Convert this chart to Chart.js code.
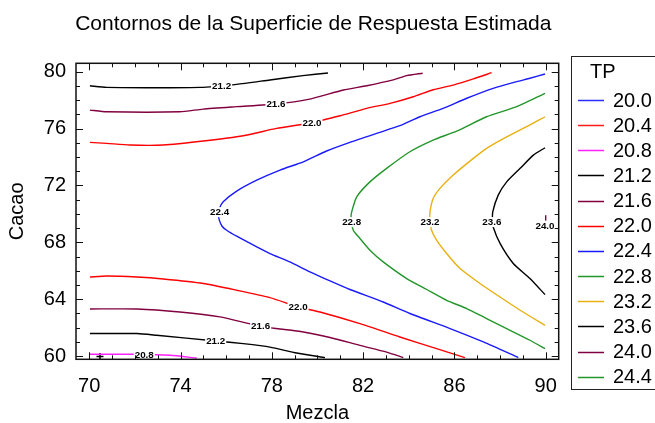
<!DOCTYPE html>
<html>
<head>
<meta charset="utf-8">
<script src="https://cdn.jsdelivr.net/npm/chart.js@4.4.1/dist/chart.umd.min.js"></script>
<style>
  html, body { margin: 0; padding: 0; background: #fff; }
  #wrap { width: 655px; height: 423px; }
</style>
</head>
<body>
<div id="wrap"><canvas id="c" width="655" height="423"></canvas></div>
<script>
// Contour levels of TP and the colour assigned to each level
const levels = ['20.0', '20.4', '20.8', '21.2', '21.6', '22.0', '22.4', '22.8', '23.2', '23.6', '24.0', '24.4'];
const levelColors = ['#2b2bff', '#ff1a1a', '#ff20ff', '#000000', '#800040', '#ff0000',
                     '#1a1aff', '#22962a', '#e8b010', '#000000', '#800040', '#22962a'];

// Axis tick labels
const xTicks = [70, 74, 78, 82, 86, 90];
const yTicks = [60, 64, 68, 72, 76, 80];

// Contour traces, [Mezcla, Cacao]
const c208 = [[70.03, 60.12], [72.08, 60.12], [73.54, 60.05], [74.71, 59.86]];
const c212Top = [[70.03, 79.01], [70.76, 78.9], [74.85, 78.9], [76.46, 79.11], [77.92, 79.42],
                 [79.36, 79.72], [80.46, 79.91]];
const c212Bot = [[70.03, 61.58], [72.08, 61.58], [72.95, 61.46], [75.55, 61.06], [76.75, 60.87],
                 [77.92, 60.63], [79.09, 60.21], [80.33, 59.89]];
const c216Top = [[70.03, 77.3], [70.76, 77.18], [73.97, 77.18], [74.99, 77.37], [76.46, 77.54],
                 [78.21, 77.73], [79.6, 78.05], [81.14, 78.71], [82.16, 79.01], [83.32, 79.42],
                 [83.91, 79.72], [84.61, 79.89]];
const c216Bot = [[70.03, 63.31], [72.08, 63.31], [73.97, 63.1], [75.73, 62.75], [77.51, 62.09],
                 [79.38, 61.69], [80.55, 61.3], [81.86, 60.75], [83.03, 60.28], [83.76, 59.89]];
const c220Top = [[70.03, 75.03], [70.76, 74.96], [71.78, 74.84], [73.24, 74.84], [75.0, 75.12],
                 [76.75, 75.49], [78.21, 76.01], [79.75, 76.41], [80.99, 76.9], [82.16, 77.42],
                 [83.18, 77.77], [84.2, 78.24], [85.07, 78.73], [85.95, 79.06], [86.83, 79.49],
                 [87.63, 79.93]];
const c220Bot = [[70.03, 65.56], [70.76, 65.63], [72.08, 65.56], [73.24, 65.42], [75.0, 65.1],
                 [76.46, 64.63], [77.92, 64.11], [79.16, 63.45], [80.11, 63.1], [81.86, 62.28],
                 [83.61, 61.34], [85.22, 60.52], [86.46, 59.89]];
const c224 = [[89.97, 79.84], [89.31, 79.54], [88.73, 79.3], [87.7, 78.83], [86.54, 78.13],
              [85.51, 77.42], [84.49, 76.83], [83.61, 76.2], [82.59, 75.66], [81.42, 75.03],
              [80.4, 74.42], [79.38, 73.66], [78.36, 73.08], [77.34, 72.37], [76.46, 71.6],
              [75.87, 70.85], [75.71, 70.4], [75.66, 69.98], [75.7, 69.56], [75.82, 69.13],
              [76.02, 68.85], [76.46, 68.43], [77.34, 67.68], [77.92, 67.21], [78.79, 66.62],
              [79.67, 65.92], [80.55, 65.28], [81.42, 64.68], [82.88, 63.8], [84.05, 62.99],
              [85.81, 61.93], [87.27, 60.99], [88.8, 59.89]];
const c228 = [[89.97, 78.48], [88.73, 77.54], [87.41, 76.83], [86.1, 75.82], [85.07, 75.19],
              [84.05, 74.37], [83.03, 73.2], [82.3, 72.25], [81.72, 71.2], [81.5, 70.14],
              [81.47, 69.7], [81.57, 68.85], [81.86, 68.27], [82.3, 67.44], [82.88, 66.62],
              [83.91, 65.45], [84.79, 64.68], [85.66, 63.92], [86.54, 63.34], [87.41, 62.63],
              [88.29, 61.93], [89.31, 61.11], [89.97, 60.52]];
const c232 = [[89.97, 76.83], [89.17, 76.13], [88.29, 75.42], [87.41, 74.61], [86.68, 73.71],
              [85.95, 72.73], [85.37, 71.79], [85.07, 71.08], [84.93, 70.14], [84.93, 69.56],
              [85.0, 68.85], [85.22, 68.15], [85.66, 67.21], [86.25, 66.15], [87.12, 65.1],
              [88.0, 64.15], [88.88, 63.22], [89.97, 62.16]];
const c236 = [[89.97, 74.65], [89.46, 74.13], [88.88, 73.2], [88.29, 72.25], [87.92, 71.32],
              [87.68, 70.14], [87.67, 69.56], [87.7, 69.08], [88.0, 67.92], [88.58, 66.51],
              [89.31, 65.45], [89.97, 64.32]];
const c240 = [[90.0, 69.9], [90.0, 69.3]];

// Which level each trace belongs to
const traces = [
  ['20.8', c208], ['21.2', c212Top], ['21.2', c212Bot], ['21.6', c216Top], ['21.6', c216Bot],
  ['22.0', c220Top], ['22.0', c220Bot], ['22.4', c224], ['22.8', c228], ['23.2', c232],
  ['23.6', c236], ['24.0', c240]
];

// Inline contour labels, [Mezcla, Cacao, level]
const contourLabels = [
  [75.8, 79.04, '21.2'], [75.54, 61.07, '21.2'],
  [78.18, 77.71, '21.6'], [77.51, 62.1, '21.6'],
  [79.76, 76.4, '22.0'], [79.15, 63.46, '22.0'],
  [75.71, 70.12, '22.4'], [81.5, 69.42, '22.8'], [84.93, 69.42, '23.2'],
  [87.64, 69.42, '23.6'], [89.97, 69.17, '24.0'], [72.41, 60.08, '20.8']
];

// Design point marker
const centerPoint = [[70.47, 59.96]];

const FONT = "'Liberation Sans', Arial, Helvetica, sans-serif";

const datasets = [];
levels.forEach((lv, i) => {
  const own = traces.filter(t => t[0] === lv);
  if (own.length === 0) {
    datasets.push({ label: lv, data: [], borderColor: levelColors[i], showLine: true, pointRadius: 0 });
  }
  own.forEach(t => {
    datasets.push({
      label: lv,
      data: t[1].map(p => ({ x: p[0], y: p[1] })),
      borderColor: levelColors[i],
      borderWidth: 1.4,
      showLine: true,
      pointRadius: 0,
      fill: false,
      tension: 0.2
    });
  });
});
datasets.push({
  label: 'centro',
  data: centerPoint.map(p => ({ x: p[0], y: p[1] })),
  pointStyle: 'cross',
  pointRadius: 3.5,
  borderColor: '#000',
  borderWidth: 1.5,
  showLine: false
});

// Frame, inward tick marks and contour labels
const decorations = {
  id: 'decorations',
  afterDatasetsDraw(chart) {
    const { ctx, chartArea: a, scales: { x, y } } = chart;
    ctx.save();
    // contour labels on a white patch
    ctx.font = `bold 9.8px ${FONT}`;
    ctx.textAlign = 'center';
    ctx.textBaseline = 'middle';
    contourLabels.forEach(([vx, vy, txt]) => {
      const px = x.getPixelForValue(vx), py = y.getPixelForValue(vy);
      const w = ctx.measureText(txt).width;
      ctx.fillStyle = '#fff';
      ctx.fillRect(px - w / 2 - 1, py - 5, w + 2, 10);
      ctx.fillStyle = '#000';
      ctx.fillText(txt, px, py + 0.5);
    });
    // ticks
    ctx.strokeStyle = '#111';
    ctx.lineWidth = 1;
    ctx.beginPath();
    for (let v = 70; v <= 90; v++) {
      const px = Math.round(x.getPixelForValue(v)) + 0.5;
      const len = (v - 70) % 4 === 0 ? 7 : 4;
      ctx.moveTo(px, a.bottom); ctx.lineTo(px, a.bottom - len);
      ctx.moveTo(px, a.top); ctx.lineTo(px, a.top + len);
    }
    for (let v = 60; v <= 80; v++) {
      const py = Math.round(y.getPixelForValue(v)) + 0.5;
      const len = (v - 60) % 4 === 0 ? 7 : 4;
      ctx.moveTo(a.left, py); ctx.lineTo(a.left + len, py);
      ctx.moveTo(a.right, py); ctx.lineTo(a.right - len, py);
    }
    ctx.stroke();
    // frame
    ctx.lineWidth = 1.5;
    ctx.strokeStyle = '#111';
    ctx.strokeRect(a.left, a.top, a.right - a.left, a.bottom - a.top);
    ctx.restore();
  }
};

// Level legend in a box at the right
const levelLegend = {
  id: 'levelLegend',
  afterDraw(chart) {
    const { ctx } = chart;
    ctx.save();
    ctx.strokeStyle = '#222';
    ctx.lineWidth = 1;
    ctx.strokeRect(571.5, 56.5, 120, 333);
    ctx.fillStyle = '#000';
    ctx.font = `20px ${FONT}`;
    ctx.textAlign = 'left';
    ctx.textBaseline = 'middle';
    ctx.fillText('TP', 590, 72.5);
    levels.forEach((lv, i) => {
      const yy = 100 + i * 25.15;
      ctx.strokeStyle = levelColors[i];
      ctx.lineWidth = 1.5;
      ctx.beginPath();
      ctx.moveTo(578, Math.round(yy) + 0.5);
      ctx.lineTo(604, Math.round(yy) + 0.5);
      ctx.stroke();
      ctx.fillStyle = '#000';
      ctx.fillText(lv, 613, yy + 1);
    });
    ctx.restore();
  }
};

const setTicks = list => scale => { scale.ticks = list.map(v => ({ value: v })); };

new Chart(document.getElementById('c'), {
  type: 'scatter',
  data: { datasets },
  options: {
    responsive: false,
    animation: false,
    devicePixelRatio: 1,
    layout: { padding: { left: 0, right: 28.4, top: 0, bottom: 0 } },
    plugins: {
      legend: { display: false },
      tooltip: { enabled: false },
      title: {
        display: true,
        text: 'Contornos de la Superficie de Respuesta Estimada',
        color: '#000',
        font: { family: FONT, size: 21, weight: 'normal' },
        padding: { top: 11.4, bottom: 26.7 }
      }
    },
    scales: {
      x: {
        type: 'linear',
        min: 69.42, max: 90.57,
        afterBuildTicks: setTicks(xTicks),
        afterFit: s => { s.height = 63.7; },
        grid: { display: false },
        border: { display: false },
        ticks: { color: '#000', font: { family: FONT, size: 20 }, padding: 7.5, maxRotation: 0, autoSkip: false },
        title: { display: true, text: 'Mezcla', color: '#000', font: { family: FONT, size: 20 }, padding: { top: 0, bottom: -2 } }
      },
      y: {
        type: 'linear',
        min: 59.77, max: 80.59,
        afterBuildTicks: setTicks(yTicks),
        afterFit: s => { s.width = 76; },
        grid: { display: false },
        border: { display: false },
        ticks: { color: '#000', font: { family: FONT, size: 20 }, padding: 2, autoSkip: false },
        title: { display: true, text: 'Cacao', color: '#000', font: { family: FONT, size: 20 }, padding: { top: 5, bottom: 0 } }
      },
      yR: {
        type: 'linear',
        position: 'right',
        display: true,
        afterFit: s => { s.width = 67.9; },
        grid: { display: false },
        border: { display: false },
        ticks: { display: false }
      }
    }
  },
  plugins: [decorations, levelLegend]
});
</script>
</body>
</html>
